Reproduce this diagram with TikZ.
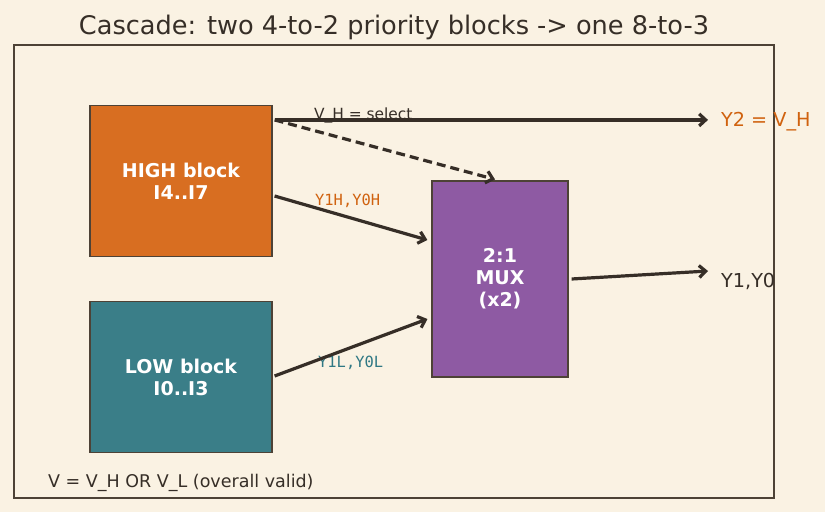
\documentclass[tikz,border=0pt]{standalone}
\usepackage{fontspec}
\setmainfont{DejaVu Sans}
\setmonofont{DejaVu Sans Mono}
\usetikzlibrary{arrows.meta}
\definecolor{paper}{HTML}{FAF2E3}
\definecolor{ink}{HTML}{362E27}
\definecolor{edge}{HTML}{4D4236}
\definecolor{hiorange}{HTML}{D86E21}
\definecolor{loteal}{HTML}{3A7E88}
\definecolor{muxpurple}{HTML}{8E5AA3}
\definecolor{hitext}{HTML}{D0620F}
\definecolor{lotext}{HTML}{2F7884}
\begin{document}
\begin{tikzpicture}[x=1pt,y=-1pt,
  block/.style={draw=edge,line width=1.2pt,text=white,align=center,
    font=\fontsize{19}{22}\selectfont\bfseries,inner sep=0pt},
  wire/.style={ink,line width=3.2pt,-{Straight Barb[length=6.5pt,width=12pt]}},
  lbl/.style={font=\fontsize{15.4}{18}\selectfont,anchor=west,inner sep=0pt}]
 \fill[paper] (0,0) rectangle (825,512);
 \useasboundingbox (0,0) rectangle (825,512);
 \draw[edge,line width=1.3pt] (14,45) rectangle (774,498);
 \node[text=ink,font=\fontsize{25.6}{30}\selectfont] (title) at (394,27) {Cascade: two 4-to-2 priority blocks -> one 8-to-3};
 % the three blocks
 \node[block,fill=hiorange,minimum width=182pt,minimum height=151pt] (high) at (181,181) {HIGH block\\I4..I7};
 \node[block,fill=loteal,minimum width=182pt,minimum height=151pt] (low) at (181,377) {LOW block\\I0..I3};
 \node[block,fill=muxpurple,minimum width=136pt,minimum height=196pt] (mux) at (500,279) {2:1\\MUX\\(x2)};
 % outputs and labels
 \node[lbl,text=hitext,font=\fontsize{19.2}{22}\selectfont] (y2) at (721,122) {Y2 = V\_H};
 \node[lbl,text=ink,font=\fontsize{19.2}{22}\selectfont] (y10) at (721,281) {Y1,Y0};
 \node[lbl,text=ink,font=\fontsize{17.5}{20}\selectfont] (valid) at (48,483) {V = V\_H OR V\_L (overall valid)};
 \node[lbl,text=ink] (sel) at (314,115) {V\_H = select};
 \node[lbl,text=hitext,font=\fontsize{15.4}{18}\selectfont\ttfamily] (yh) at (315,201) {Y1H,Y0H};
 \node[lbl,text=lotext,font=\fontsize{15.4}{18}\selectfont\ttfamily] (yl) at (318,363) {Y1L,Y0L};
 \coordinate (hsel) at ([xshift=2pt,yshift=-15pt]high.north east);
 \draw[wire] (hsel) -- ([xshift=-13pt]y2.west |- hsel);
 \draw[wire,dash pattern=on 9pt off 5pt] (hsel) -- ([xshift=-5pt,yshift=1pt]mux.north);
 \draw[wire] ([xshift=2pt,yshift=-15pt]high.east) -- ([xshift=-4pt,yshift=39pt]mux.west);
 \draw[wire] ([xshift=2pt,yshift=1pt]low.east) -- ([xshift=-4pt,yshift=-40pt]mux.west);
 \draw[wire] ([xshift=3pt]mux.east) -- ([xshift=-13pt]y10.west |- 0,271);
\end{tikzpicture}
\end{document}
